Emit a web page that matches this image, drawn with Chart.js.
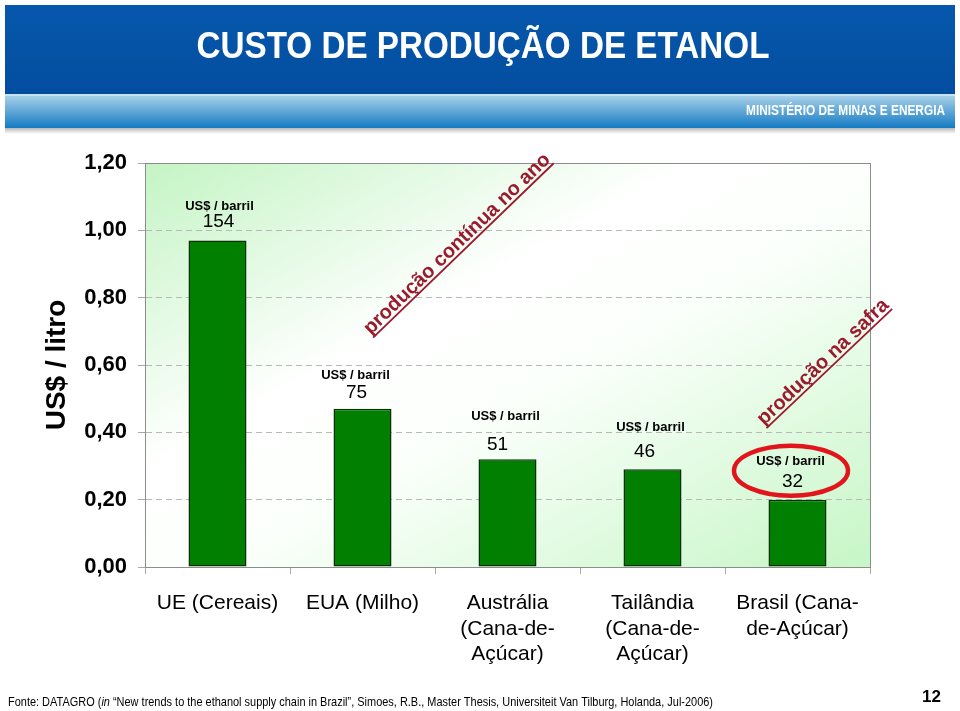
<!DOCTYPE html>
<html>
<head>
<meta charset="utf-8">
<script src="https://cdn.jsdelivr.net/npm/chart.js@4.4.0/dist/chart.umd.min.js"></script>
<style>
html,body{margin:0;padding:0;background:#fff;}
canvas{display:block;}
</style>
</head>
<body>
<canvas id="c" width="960" height="711"></canvas>
<script>
// ---- data ----
const categories = [
  ["UE (Cereais)"],
  ["EUA (Milho)"],
  ["Austrália", "(Cana-de-", "Açúcar)"],
  ["Tailândia", "(Cana-de-", "Açúcar)"],
  ["Brasil (Cana-", "de-Açúcar)"]
];
const costPerLitre = [0.97, 0.47, 0.32, 0.29, 0.20];
const costPerBarrel = [154, 75, 51, 46, 32];
const barrelUnit = "US$ / barril";
const yAxisTitle = "US$ / litro";
const yMin = 0, yMax = 1.2, yStep = 0.2;
const titleText = "CUSTO DE PRODUÇÃO DE ETANOL";
const ministryText = "MINISTÉRIO DE MINAS E ENERGIA";
const noteContinuous = "produção contínua no ano";
const noteHarvest = "produção na safra";
const pageNumber = "12";

const F = "'Liberation Sans', Arial, Helvetica, sans-serif";

// per-bar label offsets relative to bar top/center (layout only)
const labelLayout = [
  {lx: 2, ly: -34, nx: 1, ny: -19},
  {lx: -7, ly: -33, nx: -6, ny: -16},
  {lx: -2, ly: -43, nx: -10, ny: -15},
  {lx: -2, ly: -42, nx: -8, ny: -18},
  {lx: -7, ly: -38, nx: -5, ny: -18}
];

function rotText(ctx, txt, cx, cy, ang, size) {
  ctx.save();
  ctx.translate(cx, cy);
  ctx.rotate(ang);
  ctx.font = 'bold ' + size + 'px ' + F;
  ctx.fillStyle = '#9a1a2e';
  ctx.textAlign = 'center';
  ctx.textBaseline = 'alphabetic';
  const w = ctx.measureText(txt).width;
  ctx.fillText(txt, 0, 0);
  ctx.fillRect(-w / 2, 2.5, w, 1.8);
  ctx.restore();
}

const decor = {
  id: 'decor',
  beforeDraw(chart) {
    const ctx = chart.ctx, a = chart.chartArea;
    ctx.save();
    ctx.fillStyle = '#ffffff';
    ctx.fillRect(0, 0, chart.width, chart.height);
    // header banner
    let g = ctx.createLinearGradient(0, 5, 0, 94);
    g.addColorStop(0, '#0658ad');
    g.addColorStop(1, '#034d9f');
    ctx.fillStyle = g;
    ctx.fillRect(5, 5, 950, 89);
    ctx.fillStyle = '#c6e3f3';
    ctx.fillRect(5, 94, 950, 2);
    g = ctx.createLinearGradient(0, 96, 0, 128);
    g.addColorStop(0, '#a6d0e8');
    g.addColorStop(1, '#137ac3');
    ctx.fillStyle = g;
    ctx.fillRect(5, 96, 950, 32);
    g = ctx.createLinearGradient(0, 128, 0, 134);
    g.addColorStop(0, 'rgba(0,0,0,0.28)');
    g.addColorStop(1, 'rgba(0,0,0,0)');
    ctx.fillStyle = g;
    ctx.fillRect(5, 128, 950, 6);
    ctx.fillStyle = '#ffffff';
    ctx.textBaseline = 'middle';
    ctx.textAlign = 'center';
    ctx.font = 'bold 37px ' + F;
    ctx.fillText(titleText, 483, 48, 573);
    ctx.font = 'bold 14px ' + F;
    ctx.textAlign = 'right';
    ctx.fillText(ministryText, 945, 111, 199);
    // plot background gradient
    ctx.save();
    ctx.translate(a.left, a.top);
    ctx.scale(a.right - a.left, a.bottom - a.top);
    g = ctx.createLinearGradient(0, 0, 1, 1);
    g.addColorStop(0, '#c4f4c4');
    g.addColorStop(0.38, '#ffffff');
    g.addColorStop(0.55, '#fbfffb');
    g.addColorStop(1, '#c6f6c6');
    ctx.fillStyle = g;
    ctx.fillRect(0, 0, 1, 1);
    ctx.restore();
    ctx.restore();
  },
  afterDraw(chart) {
    const ctx = chart.ctx, a = chart.chartArea;
    ctx.save();
    // plot border
    ctx.strokeStyle = '#8c8c8c';
    ctx.lineWidth = 1;
    ctx.strokeRect(Math.round(a.left) + 0.5, Math.round(a.top) + 0.5,
      Math.round(a.right - a.left), Math.round(a.bottom - a.top));
    // value annotations
    const meta = chart.getDatasetMeta(0);
    ctx.fillStyle = '#000';
    ctx.textAlign = 'center';
    ctx.textBaseline = 'middle';
    meta.data.forEach((bar, i) => {
      const L = labelLayout[i];
      ctx.font = 'bold 13px ' + F;
      ctx.fillText(barrelUnit, bar.x + L.lx, bar.y + L.ly);
      ctx.font = '19px ' + F;
      ctx.fillText(String(costPerBarrel[i]), bar.x + L.nx, bar.y + L.ny);
    });
    // red ellipse around Brasil label
    const b = meta.data[4];
    ctx.beginPath();
    ctx.ellipse(b.x - 6.5, b.y - 29, 57, 25, 0, 0, Math.PI * 2);
    ctx.strokeStyle = '#e2151c';
    ctx.lineWidth = 4.5;
    ctx.stroke();
    // rotated notes
    rotText(ctx, noteContinuous, 461, 248, -44 * Math.PI / 180, 20);
    rotText(ctx, noteHarvest, 827, 366, -43.5 * Math.PI / 180, 20);
    // footer
    ctx.fillStyle = '#000';
    ctx.textAlign = 'left';
    ctx.textBaseline = 'middle';
    const segs = [
      {t: 'Fonte: DATAGRO (', f: '13px ' + F},
      {t: 'in', f: 'italic 13px ' + F},
      {t: ' \u201cNew trends to the ethanol supply chain in Brazil\u201d, Simoes, R.B., Master Thesis, Universiteit Van Tilburg, Holanda, Jul-2006)', f: '13px ' + F}
    ];
    let tw = 0;
    segs.forEach(s => { ctx.font = s.f; s.w = ctx.measureText(s.t).width; tw += s.w; });
    ctx.save();
    ctx.translate(8, 702);
    ctx.scale(705 / tw, 1);
    let x = 0;
    segs.forEach(s => { ctx.font = s.f; ctx.fillText(s.t, x, 0); x += s.w; });
    ctx.restore();
    ctx.font = 'bold 17px ' + F;
    ctx.textAlign = 'right';
    ctx.fillText(pageNumber, 941, 697);
    ctx.restore();
  }
};

new Chart(document.getElementById('c'), {
  type: 'bar',
  data: {
    labels: categories,
    datasets: [{
      data: costPerLitre,
      backgroundColor: '#007f00',
      borderColor: '#0b2e0b',
      borderWidth: 1.5,
      borderSkipped: false,
      barPercentage: 0.4,
      categoryPercentage: 1.0
    }]
  },
  options: {
    responsive: false,
    animation: false,
    devicePixelRatio: 1,
    layout: {padding: {top: 163, right: 90, left: 0, bottom: 0}},
    plugins: {legend: {display: false}, tooltip: {enabled: false}},
    scales: {
      x: {
        offset: true,
        grid: {offset: true, drawOnChartArea: false, drawTicks: true, tickLength: 7, color: '#a8a8a8'},
        border: {display: true, color: '#8c8c8c'},
        ticks: {
          color: '#000', font: {family: F, size: 21}, padding: 17,
          maxRotation: 0, autoSkip: false
        },
        afterFit(scale) { scale.height = 144; }
      },
      y: {
        min: yMin, max: yMax,
        grid: {color: '#b8b8b8', drawTicks: true, tickLength: 7, tickColor: '#a8a8a8'},
        border: {display: true, color: '#8c8c8c', dash: [6, 4]},
        ticks: {
          stepSize: yStep, color: '#000', padding: 11,
          font: {family: F, size: 22, weight: 'bold'},
          callback: v => Number(v).toFixed(2).replace('.', ',')
        },
        title: {
          display: true, text: yAxisTitle, color: '#000',
          font: {family: F, size: 28, weight: 'bold'},
          padding: {top: 40, bottom: 0}
        },
        afterFit(scale) { scale.width = 145; }
      }
    }
  },
  plugins: [decor]
});
</script>
</body>
</html>
